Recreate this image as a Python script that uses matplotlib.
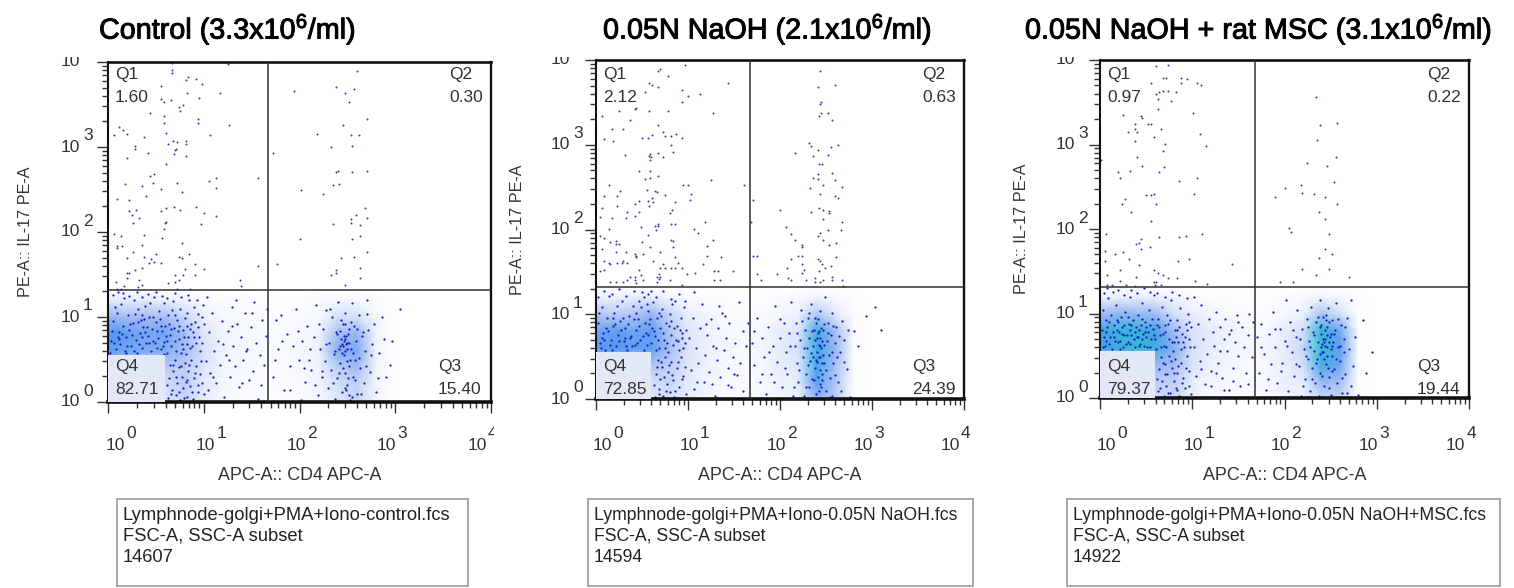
import numpy as np
import matplotlib
matplotlib.use('Agg')
import matplotlib.pyplot as plt
import matplotlib.patheffects as pe
from matplotlib.colors import LinearSegmentedColormap
from matplotlib.patches import Rectangle
from matplotlib.ticker import LogLocator, NullFormatter
from matplotlib.transforms import Bbox

plt.rcParams['font.family'] = ['Liberation Sans', 'DejaVu Sans']
plt.rcParams['mathtext.fontset'] = 'custom'
plt.rcParams['mathtext.rm'] = 'Liberation Sans'
plt.rcParams['mathtext.default'] = 'regular'

W, H = 1514, 588

# all events are log10(APC-A), log10(PE-A)
a_q1 = [(.67,3.99),(.67,3.91),(.67,3.87),(1.25,3.98),(.81,3.79),(.84,3.82),(.92,3.80),(.98,3.74),(.55,3.72),(1.17,3.64),(.82,3.63),(.95,3.58),(.55,3.57),(.59,3.53),(.66,3.55),(.78,3.50),(.74,3.47),(.75,3.42),(.44,3.40),(.59,3.37),(.94,3.33),(.94,3.28),(.58,3.28),(1.26,3.26),(.12,3.23),(.16,3.20),(.20,3.15),(.06,3.14),(.38,3.12),(.61,3.17),(1.07,3.14),(.68,3.07),(.72,3.06),(.81,3.07),(.81,3.04),(.63,3.03),(.28,3.01),(.28,2.98),(.71,2.98),(.70,2.97),(.42,2.93),(.69,2.92),(.81,2.90),(.20,2.87),(.61,2.80),(.48,2.68),(.44,2.66),(1.13,2.64),(1.57,2.64),(.72,2.58),(.47,2.58),(.18,2.57),(1.05,2.60),(.36,2.54),(.55,2.51),(1.13,2.52),(.77,2.47),(.40,2.42),(.09,2.39),(.22,2.38),(.92,2.30),(.61,2.28),(.69,2.30),(.75,2.26),(.55,2.25),(.29,2.26),(.22,2.25),(.25,2.20),(.32,2.17),(1.00,2.22),(1.13,2.19),(.61,2.12),(.60,2.11),(.26,2.11),(.97,2.09),(.59,2.04),(.06,1.98),(.38,1.97),(.14,1.95),(.56,1.93),(.77,1.87),(.36,1.85),(.09,1.83),(.09,1.81),(.15,1.84),(.26,1.76),(.50,1.74),(.85,1.74),(.74,1.71),(.77,1.70),(.20,1.70),(.38,1.71),(.45,1.68),(.48,1.65),(.43,1.63),(.55,1.63),(.91,1.62),(1.57,1.60),(1.00,1.57),(.36,1.58),(.28,1.55),(.80,1.57),(.20,1.52),(.22,1.52),(.70,1.49),(.78,1.49),(.91,1.49),(.20,1.46),(.32,1.44),(.74,1.44),(1.38,1.43),(.08,1.41),(.70,1.41),(.63,1.40),(.36,1.38),(1.39,1.36),(.17,1.36),(.31,1.35),(.09,1.33),(.14,1.33),(.72,1.33),(.86,1.33)]
a_q2 = [(2.60,3.90),(1.94,3.66),(2.38,3.71),(2.48,3.64),(2.57,3.68),(2.52,3.53),(2.71,3.33),(2.45,3.26),(2.18,3.15),(2.54,3.14),(2.62,3.14),(2.33,3.00),(2.55,3.01),(1.72,2.93),(2.40,2.72),(2.38,2.70),(2.55,2.71),(2.71,2.72),(2.41,2.57),(2.35,2.55),(2.02,2.49),(2.25,2.45),(2.68,2.28),(2.59,2.20),(2.71,2.17),(2.54,2.15),(2.54,2.11),(2.35,2.09),(2.63,2.08),(2.63,1.95),(2.01,1.92),(2.55,1.92),(2.71,1.76),(2.43,1.70),(2.57,1.71),(1.77,1.62),(2.63,1.58),(2.38,1.55),(2.38,1.52),(2.33,1.49),(2.63,1.46),(2.48,1.38)]
a_low = [(.03,.72),(.05,.95),(.08,.62),(.09,1.05),(.11,.82),(.13,.68),(.14,1.15),(.16,.9),(.18,.6),(.19,.76),(.21,1.02),(.22,.85),(.24,.66),(.26,.93),(.27,1.2),(.29,.73),(.3,.58),(.31,1.09),(.33,.81),(.34,.97),(.36,.64),(.37,.88),(.39,1.13),(.4,.7),(.42,.78),(.43,1.0),(.45,.6),(.46,.86),(.48,1.24),(.49,.69),(.5,.94),(.52,.75),(.53,1.07),(.55,.62),(.56,.83),(.58,1.16),(.59,.71),(.6,.9),(.62,.58),(.63,1.02),(.65,.79),(.66,.66),(.68,1.19),(.69,.87),(.71,.6),(.72,.96),(.74,.74),(.75,1.1),(.77,.68),(.78,.85),(.8,.99),(.81,.57),(.83,1.05),(.84,.76),(.86,.64),(.87,.92),(.89,.82),(.9,1.12),(.92,.7),(.94,.88),(.96,.6),(.98,1.0),(.04,.84),(.07,1.12),(.12,.74),(.17,1.22),(.2,.66),(.25,.79),(.28,1.04),(.32,.68),(.35,.76),(.38,.98),(.41,.88),(.44,1.16),(.47,.72),(.51,.84),(.54,.98),(.57,.66),(.61,.78),(.64,.92),(.67,1.08),(.7,.72),(.73,.84),(.76,.58),(.79,.76),(.82,.9),(.85,1.2),(.88,.66),(.91,.94),(.95,.76),
(.63,.05),(.64,.28),(.65,.44),(.67,.14),(.68,.36),(.7,.5),(.71,.08),(.72,.22),(.74,.41),(.75,.02),(.77,.3),(.78,.16),(.8,.46),(.81,.24),(.83,.06),(.84,.36),(.86,.19),(.87,.5),(.89,.03),(.9,.28),(.92,.42),(.94,.12),(.96,.33),(.98,.22),
(1.02,.48),(1.04,.14),(1.05,.82),(1.07,.34),(1.09,1.05),(1.11,.6),(1.13,.22),(1.15,.72),(1.17,.44),(1.19,.95),(1.21,.06),(1.23,.55),(1.25,.84),(1.27,.3),(1.29,1.12),(1.31,.66),(1.33,.42),(1.35,.92),(1.37,.18),(1.39,.76),(1.41,.5),(1.43,1.05),(1.45,.62),(1.47,.26),(1.49,.88),(1.51,.36),(1.53,1.18),(1.55,.7),(1.57,.03),(1.59,.55),(1.61,.96),(1.63,.44),(1.65,.78),
(1.72,.3),(1.75,.96),(1.78,.62),(1.81,1.02),(1.84,.14),(1.87,.8),(1.9,.42),(1.93,.66),(1.96,1.1),(1.99,.5),(2.02,.02),(2.03,.72),(2.06,.24),(2.08,.9),(2.1,.5),(2.12,.38),(2.15,.76),(2.17,1.14),(2.19,.08),(2.21,.62),(2.23,.3),(2.25,.86),(2.27,.48),(2.28,1.08),(2.3,.16),(2.31,.7),(2.33,.38),(2.34,1.0),(2.36,.56),(2.37,.04),(2.38,.82),(2.39,.28),(2.4,1.18),(2.41,.62),(2.42,.46),(2.43,.74),(2.44,.12),(2.45,.92),(2.46,.55),(2.47,.34),(2.48,1.05),(2.49,.68),(2.5,.2),(2.51,.8),(2.52,.42),(2.53,.02),(2.54,.62),(2.55,1.16),(2.56,.3),(2.57,.9),(2.58,.5),(2.59,.72),(2.6,.1),(2.62,1.02),(2.63,.4),(2.65,.78),(2.67,.22),(2.68,.6),(2.7,1.2),(2.72,.85),(2.74,.35),(2.76,.68),(2.8,.12),(2.83,.58),(2.86,1.0),(2.9,.3),(2.97,.72),(3.05,1.1),
(2.44,.68),(2.46,.78),(2.48,.6),(2.5,.7),(2.52,.86),(2.42,.84),(2.47,.92),(2.53,.5),(2.45,.4),(2.51,.28),(2.49,.14),(2.55,.06),
(.05,1.26),(.1,1.3),(.16,1.28),(.22,1.25),(.3,1.3),(.36,1.24),(.42,1.27),(.5,1.3),(.56,1.25),(.62,1.22),(.7,1.28),(.76,1.24),(.84,1.26),(.93,1.2),(.99,1.14),(1.03,1.24),(.02,.58),(.06,.7),(.1,.76),(.15,.8),(.19,.58),(.23,.92),(.27,.6),(.31,.94),(.35,1.02),(.39,.82),(.43,.7),(.47,1.0),(.51,.64),(.55,.9),(.58,.56),(.62,.72),(.66,.86),(.7,1.02),(.74,.9),(.78,.62),(.82,.68),(.86,.86),(.9,.76),(.94,1.04),(.98,.7),(1.0,.92),
(.62,.2),(.66,.1),(.68,.44),(.71,.3),(.74,.12),(.76,.42),(.79,.05),(.82,.26),(.85,.44),(.88,.12),(.91,.34),(.94,.2),(.97,.48),(1.0,.1),
(1.74,.5),(1.82,.72),(1.9,.14),(1.98,.84),(2.05,.4),(2.11,.62),(2.16,.2),(2.2,.92),(2.24,.36),(2.28,.68),(2.32,1.1),(2.35,.22),(2.37,.6),(2.39,.8),(2.41,.34),(2.43,.96),(2.45,.66),(2.47,.16),(2.49,.78),(2.5,.48),(2.52,.08),(2.54,.94),(2.56,.58),(2.58,.26),(2.6,.86),(2.62,.52),(2.64,.1),(2.66,.82),(2.69,.42),(2.71,1.04),(2.75,.55),(2.78,.92),(2.82,.28),(2.88,.74),(2.94,.44),(2.46,.72),(2.48,.74),(2.44,.58),(2.5,.62),(2.42,.66),(2.52,.7),
(1.1,.3),(1.2,.68),(1.3,.9),(1.4,.22),(1.5,1.05),(1.6,.2),(1.66,1.1),(1.44,.6),(1.26,.5),(1.34,1.2)]
a_dens = [[.2,.2,.2,.25,.35,.2,.05,.05,.03,.02,.05,.08,.25,.35,.1,0],
          [.25,.3,.3,.3,.4,.25,.1,.06,.03,.03,.05,.1,.3,.38,.1,0],
          [.4,.4,.4,.4,.4,.25,.1,.07,.05,.03,.08,.12,.4,.5,.12,0],
          [.7,.65,.6,.6,.5,.3,.12,.08,.06,.04,.08,.15,.6,.62,.12,0],
          [.75,.7,.65,.65,.5,.25,.12,.08,.06,.04,.07,.12,.5,.55,.12,0],
          [.55,.5,.5,.5,.35,.15,.08,.07,.05,.03,.04,.08,.3,.3,.08,0],
          [.2,.2,.2,.15,.12,.05,.03,.03,.02,.01,.01,.04,.08,.08,.03,0],
          [0]*16]

b_q1 = [(.97,3.94),(.67,3.87),(.70,3.89),(.78,3.81),(.58,3.73),(.61,3.71),(.67,3.68),(1.44,3.73),(.94,3.65),(.53,3.62),(1.13,3.60),(1.00,3.58),(.94,3.51),(.42,3.42),(.43,3.43),(.25,3.40),(.58,3.40),(.78,3.40),(1.27,3.38),(.06,3.34),(.37,3.29),(.67,3.23),(.29,3.19),(.17,3.18),(.73,3.15),(.87,3.13),(.61,3.12),(.75,3.10),(.81,3.10),(.50,3.08),(.56,3.08),(.94,3.08),(.09,3.07),(.18,3.04),(.81,3.00),(.84,2.92),(.31,2.88),(.67,2.90),(.59,2.89),(.58,2.87),(.60,2.86),(.73,2.85),(.59,2.82),(.47,2.69),(.59,2.69),(.67,2.63),(.59,2.61),(.53,2.60),(1.25,2.58),(.14,2.53),(1.00,2.53),(.95,2.52),(1.61,2.52),(.55,2.47),(.64,2.46),(.66,2.44),(.26,2.46),(1.03,2.42),(.75,2.41),(.09,2.39),(.23,2.39),(.61,2.37),(.47,2.34),(.56,2.34),(.62,2.33),(1.02,2.35),(.86,2.33),(.42,2.30),(.23,2.28),(.58,2.28),(.06,2.25),(.83,2.23),(.34,2.21),(.47,2.21),(.80,2.19),(.04,2.15),(.17,2.14),(.33,2.14),(.42,2.16),(1.19,2.09),(.67,2.07),(.82,2.07),(.86,2.06),(.64,2.04),(.67,2.04),(.65,2.00),(.49,2.03),(.14,2.01),(1.06,2.01),(1.11,1.96),(.56,1.93),(.04,1.92),(.09,1.90),(.81,1.88),(.84,1.87),(1.27,1.88),(.50,1.85),(.15,1.85),(.22,1.87),(.22,1.83),(.25,1.83),(.59,1.79),(.84,1.79),(1.21,1.81),(.06,1.77),(.22,1.74),(.33,1.74),(.70,1.73),(.42,1.71),(.51,1.71),(.43,1.69),(1.21,1.69),(1.36,1.68),(.86,1.68),(.43,1.67),(.62,1.63),(.09,1.63),(.14,1.61),(.23,1.60),(.28,1.60),(.34,1.60),(.15,1.59),(.29,1.63),(.89,1.60),(.73,1.59),(1.16,1.59),(.70,1.54),(.75,1.54),(.82,1.54),(.86,1.54),(.94,1.54),(.09,1.52),(.04,1.51),(.47,1.52),(1.28,1.51),(1.33,1.51),(1.49,1.51),(.69,1.48),(.99,1.48),(1.08,1.49),(.49,1.46),(.42,1.44),(.37,1.44),(.66,1.44),(.70,1.44),(.34,1.40),(.42,1.40),(.51,1.40),(.69,1.42),(.80,1.40),(1.28,1.40),(1.35,1.40),(.15,1.38),(.22,1.38),(.29,1.38),(.43,1.37),(.66,1.38),(.94,1.35)]
b_q2 = [(2.44,3.87),(2.41,3.68),(2.60,3.70),(2.45,3.51),(2.44,3.48),(2.45,3.38),(2.52,3.37),(2.42,3.34),(2.57,3.29),(2.31,3.02),(2.34,2.99),(2.63,3.00),(2.55,2.97),(2.41,2.94),(2.16,2.90),(2.52,2.88),(2.36,2.87),(2.42,2.77),(2.46,2.77),(2.57,2.67),(2.41,2.66),(2.36,2.61),(2.41,2.60),(2.60,2.58),(2.47,2.53),(2.67,2.50),(2.33,2.49),(2.44,2.42),(2.60,2.39),(2.63,2.37),(1.71,2.35),(2.00,2.23),(2.34,2.21),(2.42,2.25),(2.47,2.23),(2.53,2.22),(2.53,2.19),(2.47,2.12),(2.67,2.09),(1.68,2.09),(2.06,2.03),(2.52,2.00),(2.66,2.00),(2.44,1.96),(2.12,1.95),(2.41,1.92),(2.47,1.88),(2.16,1.88),(2.61,1.84),(2.53,1.82),(2.24,1.82),(2.24,1.79),(1.71,1.69),(1.75,1.69),(2.20,1.69),(2.24,1.69),(2.12,1.65),(2.61,1.67),(2.41,1.65),(2.44,1.63),(2.46,1.59),(2.24,1.59),(2.55,1.57),(2.08,1.54),(2.49,1.54),(2.26,1.52),(2.42,1.51),(1.97,1.48),(1.75,1.48),(2.24,1.49),(2.09,1.43),(2.57,1.44),(2.38,1.43),(1.79,1.41),(2.12,1.40),(2.28,1.40),(2.38,1.38),(2.44,1.38),(2.47,1.40),(2.57,1.40),(2.67,1.40),(2.69,1.33)]
b_low = [(.02,.9),(.04,.66),(.06,1.08),(.08,.78),(.1,.58),(.12,.95),(.14,1.22),(.16,.7),(.18,.86),(.2,1.02),(.22,.62),(.24,.76),(.26,.92),(.28,1.16),(.3,.68),(.32,.84),(.34,.58),(.36,.98),(.38,.74),(.4,1.1),(.42,.64),(.44,.82),(.46,.94),(.48,.7),(.5,1.26),(.52,.58),(.54,.78),(.56,1.04),(.58,.88),(.6,.66),(.62,1.14),(.64,.74),(.66,.96),(.68,.6),(.7,.84),(.72,1.06),(.74,.7),(.76,.9),(.78,.56),(.8,1.0),(.82,.76),(.84,.64),(.86,1.16),(.88,.86),(.9,.58),(.92,.96),(.94,.72),(.96,1.08),(.98,.82),(.03,1.02),(.07,.72),(.11,.84),(.15,.64),(.19,.96),(.23,1.1),(.27,.82),(.31,.72),(.35,.88),(.39,.62),(.43,1.02),(.47,.86),(.51,.74),(.55,.64),(.59,.94),(.63,.8),(.67,.7),(.71,.98),(.75,.6),(.79,.86),(.83,1.12),(.87,.7),(.91,.82),(.95,.6),(.52,1.2),(.55,1.12),(.6,1.28),
(.64,.02),(.65,.3),(.67,.46),(.68,.12),(.7,.24),(.72,.38),(.73,.04),(.75,.5),(.77,.18),(.78,.32),(.8,.08),(.82,.44),(.84,.22),(.85,.02),(.88,.36),(.9,.14),(.92,.5),(.95,.27),(.98,.06),
(1.01,.72),(1.03,.34),(1.05,.95),(1.07,.12),(1.09,.6),(1.11,.42),(1.13,.84),(1.15,1.12),(1.17,.2),(1.19,.52),(1.21,.76),(1.23,.32),(1.25,.94),(1.27,.62),(1.29,.04),(1.31,.46),(1.33,.84),(1.35,.26),(1.37,1.02),(1.39,.58),(1.41,.72),(1.43,.36),(1.45,.9),(1.47,.14),(1.49,.5),(1.51,.66),(1.53,.28),(1.55,1.15),(1.57,.42),(1.6,.8),(1.63,.62),
(1.7,.66),(1.72,.4),(1.75,.95),(1.78,.2),(1.8,.72),(1.83,.5),(1.85,.06),(1.87,.85),(1.9,.3),(1.92,.62),(1.95,1.1),(1.97,.44),(2.,.72),(2.02,.14),(2.04,.9),(2.06,.55),(2.08,.3),(2.1,.78),(2.12,1.14),(2.14,.04),(2.16,.62),(2.17,.9),(2.19,.42),(2.2,.2),(2.22,.7),(2.23,1.05),(2.25,.5),(2.26,.04),(2.27,.82),(2.28,.3),(2.29,.6),(2.3,.95),(2.31,.14),(2.32,.72),(2.33,.45),(2.34,1.12),(2.35,.24),(2.36,.62),(2.37,.82),(2.38,.36),(2.39,.06),(2.4,.72),(2.41,.94),(2.42,.5),(2.43,.18),(2.44,1.04),(2.45,.6),(2.46,.3),(2.47,.82),(2.48,.42),(2.49,1.2),(2.5,.1),(2.51,.68),(2.52,.9),(2.53,.52),(2.54,.25),(2.55,.75),(2.56,1.02),(2.57,.04),(2.58,.42),(2.6,.66),(2.61,.85),(2.63,.2),(2.65,.55),(2.67,.92),(2.7,.7),(2.73,.35),(2.76,.02),(2.8,.8),(2.85,.62),(2.93,.98),(3.03,1.08),(3.1,.82),
(2.38,.7),(2.4,.55),(2.42,.8),(2.44,.34),(2.46,.68),(2.48,.88),(2.36,.5),(2.41,.26),(2.45,.14),(2.39,.9),(2.47,.52),(2.43,.62),
(.02,1.2),(.09,1.28),(.17,1.24),(.25,1.3),(.33,1.22),(.41,1.27),(.47,1.16),(.57,1.24),(.65,1.2),(.73,1.28),(.81,1.18),(.9,1.24),(.97,1.16),(1.06,1.26),(.05,.6),(.09,.7),(.13,.8),(.17,.58),(.21,.88),(.25,.68),(.29,.96),(.33,.62),(.37,.72),(.41,.94),(.45,.66),(.49,1.08),(.53,.9),(.57,.76),(.61,.84),(.65,.58),(.69,1.02),(.73,.78),(.77,.66),(.81,.92),(.85,.84),(.89,.68),(.93,.78),(.97,.66),
(.63,.16),(.66,.38),(.69,.06),(.71,.44),(.74,.26),(.76,.1),(.79,.4),(.83,.28),(.86,.1),(.89,.44),(.93,.24),(.97,.38),
(1.72,.8),(1.8,.3),(1.88,.55),(1.94,.2),(2.0,.94),(2.05,.36),(2.11,.62),(2.15,.14),(2.18,.78),(2.21,.34),(2.24,.92),(2.26,.6),(2.28,.14),(2.3,.4),(2.32,1.02),(2.34,.54),(2.35,.8),(2.37,.22),(2.38,.96),(2.39,.46),(2.41,.78),(2.42,.1),(2.44,.5),(2.45,.84),(2.46,.22),(2.48,.64),(2.5,.34),(2.52,.78),(2.54,.02),(2.56,.56),(2.58,.86),(2.6,.28),(2.62,.5),(2.64,.74),(2.66,.1),(2.7,.44),(2.74,.82),(2.42,.64),(2.44,.72),(2.4,.44),(2.46,.42),
(1.1,.2),(1.2,.88),(1.3,.6),(1.4,.98),(1.5,.3),(1.6,.1),(1.65,.9),(1.44,.16),(1.26,.18),(1.34,1.1)]
b_dens = [[.2,.2,.2,.25,.3,.18,.1,.05,.04,.05,.12,.15,.55,.4,.03,0],
          [.25,.25,.3,.3,.35,.22,.12,.06,.04,.07,.14,.2,.7,.45,.03,0],
          [.35,.35,.4,.45,.4,.25,.15,.08,.05,.08,.18,.25,.85,.5,.03,0],
          [.7,.75,.7,.7,.5,.28,.15,.1,.06,.1,.2,.3,.85,.55,.03,0],
          [.65,.7,.65,.7,.45,.25,.15,.08,.06,.08,.18,.25,.85,.5,.04,0],
          [.45,.4,.45,.55,.35,.18,.1,.05,.04,.04,.1,.15,.45,.25,.03,0],
          [.15,.15,.18,.2,.1,.05,.03,.02,.02,.01,.04,.06,.12,.06,.01,0],
          [0]*16]

c_q1 = [(.61,3.93),(.74,3.94),(.68,3.79),(.72,3.79),(.88,3.79),(.94,3.78),(.55,3.73),(.88,3.73),(1.05,3.73),(1.10,3.71),(.61,3.60),(.64,3.62),(.68,3.63),(.74,3.63),(.82,3.62),(.63,3.54),(.77,3.51),(.63,3.42),(1.01,3.37),(.25,3.35),(.44,3.34),(.46,3.31),(.38,3.24),(.52,3.24),(.55,3.24),(.38,3.18),(.66,3.18),(.30,3.15),(.40,3.15),(1.08,3.13),(.58,3.09),(.38,3.04),(.71,3.01),(1.15,2.98),(.68,2.92),(.40,2.85),(.01,2.82),(.64,2.68),(.69,2.73),(.46,2.75),(.33,2.69),(.19,2.67),(.22,2.60),(.86,2.57),(1.05,2.60),(1.02,2.41),(.50,2.40),(.55,2.40),(.58,2.41),(.27,2.35),(.24,2.29),(.61,2.29),(.34,2.20),(.55,2.10),(.06,1.94),(1.11,1.94),(.64,1.90),(.86,1.90),(.93,1.92),(.44,1.88),(.42,1.84),(.39,1.82),(.44,1.76),(.54,1.79),(.05,1.74),(.25,1.73),(.16,1.70),(.31,1.65),(.96,1.65),(.05,1.62),(.85,1.62),(1.43,1.59),(.42,1.57),(.22,1.52),(.58,1.52),(.63,1.48),(.68,1.46),(.08,1.46),(.39,1.43),(.74,1.42),(.83,1.42),(1.03,1.38),(.22,1.38),(.58,1.37),(.61,1.37),(.08,1.34),(.13,1.34),(.28,1.34),(.38,1.33),(.60,1.34),(.66,1.34),(1.16,1.35)]
c_q2 = [(2.34,3.56),(2.57,3.26),(2.38,3.23),(2.35,3.05),(2.56,2.85),(2.24,2.78),(2.46,2.75),(2.54,2.56),(2.18,2.52),(2.01,2.48),(2.19,2.43),(2.32,2.41),(1.90,2.38),(2.44,2.38),(2.57,2.30),(2.37,2.20),(2.44,2.12),(2.05,2.01),(2.07,1.96),(2.48,1.94),(2.44,1.76),(2.51,1.71),(2.37,1.66),(2.19,1.53),(2.48,1.53),(2.34,1.45),(2.70,1.43),(1.95,1.37),(2.09,1.37)]
c_low = [(.02,.8),(.03,1.04),(.05,.62),(.07,.92),(.09,1.18),(.11,.72),(.13,.58),(.15,.86),(.17,1.1),(.19,.66),(.21,.78),(.23,.96),(.25,.6),(.27,1.02),(.29,.74),(.31,.88),(.33,1.2),(.35,.56),(.37,.7),(.39,.84),(.41,.98),(.43,.64),(.45,1.12),(.47,.76),(.49,.9),(.51,.6),(.53,1.04),(.55,.7),(.57,.82),(.59,1.22),(.61,.58),(.63,.94),(.65,.74),(.67,1.08),(.69,.62),(.71,.86),(.73,.98),(.75,.7),(.77,1.16),(.79,.56),(.81,.8),(.83,.92),(.85,.66),(.87,1.06),(.89,.76),(.91,.6),(.93,.88),(.95,1.0),(.97,.7),(.99,.84),(.04,.72),(.08,.84),(.12,.98),(.16,.68),(.2,.9),(.24,.76),(.28,.64),(.32,.8),(.36,.92),(.4,.72),(.44,.86),(.48,.62),(.52,.78),(.56,.94),(.6,.7),(.64,.84),(.68,.76),(.72,.6),(.76,.92),(.8,.66),(.84,.8),(.88,.58),(.92,.72),(.96,.9),(.06,.78),(.1,.9),(.18,.8),(.22,.68),(.26,.86),(.3,.96),(.34,.74),(.38,.6),(.42,.8),(.46,.94),(.5,.72),(.54,.86),
(.63,.08),(.64,.34),(.66,.48),(.67,.2),(.69,.02),(.7,.4),(.72,.14),(.73,.28),(.75,.5),(.76,.06),(.78,.36),(.8,.2),(.81,.46),(.83,.1),(.84,.3),(.86,.02),(.88,.42),(.9,.24),(.92,.12),(.94,.5),(.97,.32),(.99,.05),
(1.02,.6),(1.04,.26),(1.06,.88),(1.08,.44),(1.1,1.1),(1.12,.7),(1.14,.16),(1.16,.52),(1.18,.94),(1.2,.32),(1.22,.78),(1.24,.62),(1.26,1.02),(1.28,.42),(1.3,.84),(1.32,.24),(1.34,.7),(1.36,.94),(1.38,.56),(1.4,.1),(1.42,.8),(1.44,.36),(1.46,.66),(1.48,.98),(1.5,.5),(1.52,.14),(1.54,.84),(1.56,.6),(1.58,.3),(1.6,.74),(1.62,1.0),(1.65,.48),
(1.7,.72),(1.72,.3),(1.75,.88),(1.78,.52),(1.8,.1),(1.83,.76),(1.85,.4),(1.88,1.02),(1.9,.6),(1.92,.18),(1.95,.82),(1.97,.42),(2.,.68),(2.02,1.16),(2.04,.08),(2.06,.9),(2.08,.54),(2.1,.26),(2.12,.72),(2.14,1.04),(2.16,.38),(2.18,.02),(2.19,.82),(2.21,.58),(2.22,.22),(2.24,.94),(2.25,.46),(2.27,.68),(2.28,.08),(2.29,1.08),(2.3,.36),(2.31,.78),(2.32,.56),(2.33,.18),(2.34,.9),(2.35,.46),(2.36,.66),(2.37,.02),(2.38,1.16),(2.39,.3),(2.4,.76),(2.41,.54),(2.42,.96),(2.43,.14),(2.44,.62),(2.45,.4),(2.46,.84),(2.47,1.06),(2.48,.25),(2.49,.72),(2.5,.04),(2.51,.5),(2.52,.92),(2.53,.66),(2.54,.34),(2.55,.8),(2.56,1.12),(2.57,.18),(2.58,.6),(2.6,.44),(2.61,.86),(2.62,.06),(2.64,.7),(2.66,.28),(2.68,.95),(2.7,.58),(2.72,.14),(2.76,.72),(2.8,.04),(2.85,.92),(2.95,.55),(2.88,.3),(2.72,1.16),
(2.4,.86),(2.42,.7),(2.44,.8),(2.46,.6),(2.48,.9),(2.43,.46),(2.47,.36),(2.41,.64),(2.5,.76),(2.45,.98),
(.04,1.24),(.08,1.3),(.14,1.26),(.2,1.28),(.26,1.22),(.34,1.28),(.4,1.24),(.48,1.3),(.54,1.26),(.62,1.24),(.7,1.2),(.78,1.26),(.86,1.22),(.94,1.18),(1.02,1.2),(.03,.6),(.07,.68),(.1,.64),(.14,.78),(.18,.92),(.22,.58),(.26,.74),(.3,.66),(.34,.86),(.38,.78),(.42,.62),(.46,.7),(.5,.84),(.54,.6),(.58,.74),(.62,.86),(.66,.6),(.7,.78),(.74,.88),(.78,.66),(.82,.72),(.86,.84),(.9,.66),(.94,.8),(.98,.6),(.15,.72),(.24,.84),(.33,.64),(.41,.72),(.49,.78),
(.62,.22),(.65,.12),(.68,.42),(.71,.28),(.74,.06),(.77,.44),(.8,.3),(.82,.12),(.85,.38),(.89,.18),(.93,.36),(.96,.14),
(1.74,.6),(1.82,.22),(1.9,.82),(1.96,.32),(2.03,.62),(2.09,.8),(2.13,.4),(2.17,.7),(2.2,.14),(2.23,.5),(2.26,.84),(2.28,.6),(2.3,.22),(2.32,.74),(2.34,.42),(2.36,.96),(2.38,.52),(2.39,.84),(2.41,.26),(2.43,.66),(2.45,.92),(2.46,.5),(2.48,.12),(2.5,.58),(2.52,.32),(2.54,.76),(2.56,.46),(2.58,.94),(2.6,.62),(2.62,.24),(2.64,.54),(2.66,.84),(2.68,.06),(2.74,.38),(2.4,.6),(2.44,.7),(2.46,.74),(2.42,.54),(2.48,.66),(2.52,.62),
(1.1,.34),(1.2,.14),(1.3,.56),(1.4,.76),(1.5,.9),(1.6,.16),(1.66,.9),(1.44,.2),(1.26,.3),(1.34,.1)]
c_dens = [[.2,.2,.2,.3,.35,.15,.06,.05,.04,.06,.12,.15,.35,.35,.02,0],
          [.3,.3,.3,.4,.4,.2,.1,.08,.05,.08,.15,.2,.55,.5,.02,0],
          [.5,.5,.5,.55,.5,.28,.15,.1,.05,.08,.18,.3,.85,.65,.02,0],
          [.8,.85,.95,.85,.6,.3,.18,.12,.08,.1,.2,.35,.95,.7,.03,0],
          [.8,.9,.9,.8,.5,.28,.18,.14,.08,.08,.18,.3,.9,.65,.03,0],
          [.5,.55,.55,.5,.3,.18,.1,.06,.04,.03,.08,.15,.45,.3,.02,0],
          [.15,.15,.15,.15,.1,.05,.03,.02,.02,.01,.03,.06,.12,.07,.01,0],
          [0]*16]

dens_x = [0,.2,.4,.6,.8,1.,1.2,1.4,1.6,1.8,2.,2.2,2.4,2.6,2.8,3.]
dens_y = [0,.2,.4,.6,.8,1.,1.2,1.32]

names = ['Control (3.3x10$^{6}$/ml)', '0.05N NaOH (2.1x10$^{6}$/ml)', '0.05N NaOH + rat MSC (3.1x10$^{6}$/ml)']
files = ['Lymphnode-golgi+PMA+Iono-control.fcs', 'Lymphnode-golgi+PMA+Iono-0.05N NaOH.fcs', 'Lymphnode-golgi+PMA+Iono-0.05N NaOH+MSC.fcs']
counts = ['14607', '14594', '14922']
q_vals = [['1.60', '0.30', '15.40', '82.71'], ['2.12', '0.63', '24.39', '72.85'], ['0.97', '0.22', '19.44', '79.37']]
gate_x = [47, 47, 48]
gate_y = [20.8, 20.9, 20.4]

wash = LinearSegmentedColormap.from_list('wash', ['#ffffff', '#dfe8fb', '#a6bdf2', '#4f97ee', '#2cc8c8'])
fig = plt.figure(figsize=(W/100, H/100), dpi=100)


def put(x, y, s, **kw):
    kw.setdefault('color', '#333333')
    return fig.text(x/W, 1 - y/H, s, **kw)


def panel(i, box, q1, q2, low, dens, title_x, box_x, ylab_x, xlab_x, qx, clip_r, lab0, lab_step, yr, file_size):
    left, right, top, bottom = box
    ax = fig.add_axes([left/W, 1 - bottom/H, (right - left)/W, (bottom - top)/H])
    ax.set_xscale('log')
    ax.set_yscale('log')
    ax.set_xlim(1, 1e4)
    ax.set_ylim(1, 1e4)
    ax.pcolormesh(10.0**np.array(dens_x), 10.0**np.array(dens_y), np.array(dens),
                  shading='gouraud', cmap=wash, vmin=0, vmax=1, zorder=1)
    up = np.array(q1 + q2)
    ax.scatter(10**up[:, 0], 10**up[:, 1], s=2.0, c='#3a369e', linewidths=0, zorder=2)
    lo = np.array(low)
    ax.scatter(10**lo[:, 0], 10**lo[:, 1], s=2.6, c='#1418c8', linewidths=0, zorder=2)
    ax.add_patch(Rectangle((0, 0), .6/4, .555/4, transform=ax.transAxes, fc='#e2e8f6', ec='none', zorder=3))
    ax.axvline(gate_x[i], color='#303030', lw=1.1, zorder=4)
    ax.axhline(gate_y[i], color='#303030', lw=1.1, zorder=4)

    for sp, w in zip(['left', 'right', 'top', 'bottom'], [1.5, 1.7, 1.9, 2.6]):
        ax.spines[sp].set_linewidth(w)
        ax.spines[sp].set_color('#111111')
    for a in (ax.xaxis, ax.yaxis):
        a.set_major_locator(LogLocator(base=10, numticks=6))
        a.set_minor_locator(LogLocator(base=10, subs=np.arange(2, 10), numticks=6))
        a.set_major_formatter(NullFormatter())
        a.set_minor_formatter(NullFormatter())
    ax.tick_params(which='major', length=8, width=1, color='#333333')
    ax.tick_params(which='minor', length=4, width=1, color='#333333')

    # decade labels, the way the cytometry software prints them
    step_y = (bottom - top)/4
    cut = Bbox([[0, 0], [clip_r, H - 57]])
    for d in range(5):
        px = lab0 + d*lab_step
        put(px, 445, '10', fontsize=12.5, ha='center', va='center', clip_on=True).set_clip_box(cut)
        put(px + 11, 433, str(d), fontsize=12.5, ha='left', va='center', clip_on=True).set_clip_box(cut)
        py = bottom - d*step_y
        put(yr, py, '10', fontsize=12.5, ha='right', va='center', clip_on=True).set_clip_box(cut)
        if d < 4:
            put(yr + 3, py - 11, str(d), fontsize=12.5, ha='left', va='center')

    put(xlab_x, 476, 'APC-A:: CD4 APC-A', fontsize=12.9, ha='center', va='center')
    put(ylab_x, (top + bottom)/2, 'PE-A:: IL-17 PE-A', fontsize=11.6, rotation=90, ha='center', va='center')
    t = put(title_x, 29, names[i], fontsize=20.7, color='black', ha='left', va='center')
    t.set_path_effects([pe.withStroke(linewidth=.7, foreground='black')])

    vals = q_vals[i]
    put(left + 7, 74, 'Q1', fontsize=12.5, va='center', zorder=5)
    put(left + 7, 97, vals[0], fontsize=12.5, va='center', zorder=5)
    put(qx[0], 74, 'Q2', fontsize=12.5, va='center', zorder=5)
    put(qx[0], 97, vals[1], fontsize=12.5, va='center', zorder=5)
    put(qx[1], 366, 'Q3', fontsize=12.5, va='center', zorder=5)
    put(qx[1], 390, vals[2], fontsize=12.5, va='center', zorder=5)
    put(left + 7, 366, 'Q4', fontsize=12.5, va='center', zorder=5)
    put(left + 7, 390, vals[3], fontsize=12.5, va='center', zorder=5)

    bx0, bx1 = box_x
    fig.add_artist(Rectangle((bx0/W, 1 - 586/H), (bx1 - bx0)/W, 87/H, transform=fig.transFigure,
                             fc='white', ec='#999999', lw=1.2))
    put(bx0 + 6, 515, files[i], fontsize=file_size, va='center', color='#222222')
    put(bx0 + 6, 536, 'FSC-A, SSC-A subset', fontsize=file_size, va='center', color='#222222')
    put(bx0 + 6, 557, counts[i], fontsize=file_size, va='center', color='#222222')
    return ax


panel(0, (108, 491, 62, 402), a_q1, a_q2, a_low, a_dens, 99, (117, 468), 26, 300, (449, 438), 494, 115, 90.5, 80, 13.28)
panel(1, (596, 964, 60, 399), b_q1, b_q2, b_low, b_dens, 603, (588, 973), 517, 780, (922, 912), W, 602, 87, 570, 12.68)
panel(2, (1100, 1469, 60, 398), c_q1, c_q2, c_low, c_dens, 1025, (1067, 1500), 1021, 1285, (1427, 1417), W, 1106, 87.3, 1075, 12.66)

fig.savefig('out.png', dpi=100)
